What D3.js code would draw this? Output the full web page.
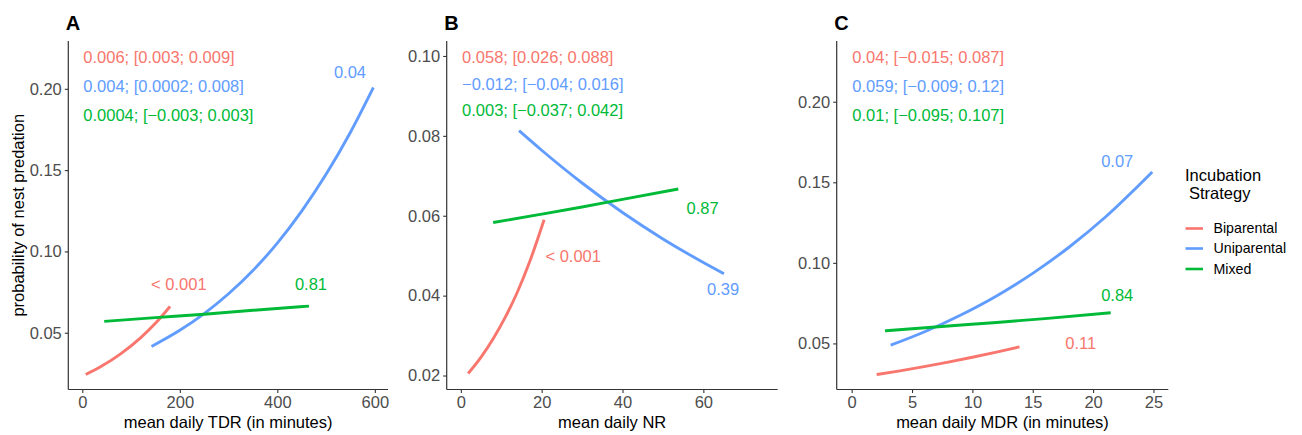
<!DOCTYPE html>
<html><head><meta charset="utf-8">
<script src="https://cdn.jsdelivr.net/npm/d3@7"></script>
<style>
body{margin:0;background:#fff;}
text{font-family:"Liberation Sans",Arial,sans-serif;}
</style></head>
<body><svg id="chart" width="1302" height="435"></svg>
<script>
// ---------- data ----------
const strategies = ["Biparental", "Uniparental", "Mixed"];
const colors = ["#F8766D", "#619CFF", "#00BA38"];

// Panel A: mean daily TDR
const tdrBiX = [7, 40, 80, 120, 150, 180];
const tdrBiY = [0.0243, 0.0295, 0.0373, 0.0470, 0.0558, 0.0662];
const tdrUniX = [142, 200, 250, 300, 350, 400, 450, 500, 550, 597];
const tdrUniY = [0.0416, 0.0515, 0.0618, 0.0740, 0.0883, 0.1051, 0.1248, 0.1474, 0.1733, 0.2008];
const tdrMixX = [45, 150, 250, 350, 465];
const tdrMixY = [0.0570, 0.0593, 0.0614, 0.0638, 0.0664];

// Panel B: mean daily NR
const nrBiX = [1.8, 5, 8, 11, 14, 17, 20.6];
const nrBiY = [0.0205, 0.0246, 0.0292, 0.0346, 0.0409, 0.0484, 0.0590];
const nrUniX = [14.4, 20, 30, 40, 50, 60, 65.1];
const nrUniY = [0.0813, 0.0764, 0.0682, 0.0608, 0.0542, 0.0483, 0.0455];
const nrMixX = [8, 20, 30, 40, 53.8];
const nrMixY = [0.0583, 0.0604, 0.0622, 0.0641, 0.0667];

// Panel C: mean daily MDR
const mdrBiX = [2.07, 4, 6, 8, 10, 12, 13.9];
const mdrBiY = [0.0307, 0.0330, 0.0356, 0.0384, 0.0414, 0.0446, 0.0479];
const mdrUniX = [3.23, 6, 9, 12, 15, 18, 21, 24.9];
const mdrUniY = [0.0489, 0.0571, 0.0675, 0.0795, 0.0935, 0.1097, 0.1283, 0.1564];
const mdrMixX = [2.76, 8, 12, 16, 21.46];
const mdrMixY = [0.0578, 0.0608, 0.0630, 0.0654, 0.0690];

// coefficient labels [estimate; CI] per strategy
const tdrCoef = ["0.006; [0.003; 0.009]", "0.004; [0.0002; 0.008]", "0.0004; [\u22120.003; 0.003]"];
const nrCoef = ["0.058; [0.026; 0.088]", "\u22120.012; [\u22120.04; 0.016]", "0.003; [\u22120.037; 0.042]"];
const mdrCoef = ["0.04; [\u22120.015; 0.087]", "0.059; [\u22120.009; 0.12]", "0.01; [\u22120.095; 0.107]"];
// coefficient label anchor (data coords)
const tdrCoefX = 2, tdrCoefY = [0.2193, 0.2017, 0.1838];
const nrCoefX = 0.3, nrCoefY = [0.0997, 0.0929, 0.0863];
const mdrCoefX = 0.05, mdrCoefY = [0.2276, 0.2097, 0.1917];

// p-value labels (data coords)
const tdrP = ["< 0.001", "0.04", "0.81"];
const tdrPX = [198, 549, 469], tdrPY = [0.0798, 0.2100, 0.0798];
const nrP = ["< 0.001", "0.39", "0.87"];
const nrPX = [27.8, 64.9, 59.8], nrPY = [0.0498, 0.0417, 0.0618];
const mdrP = ["0.11", "0.07", "0.84"];
const mdrPX = [18.97, 22.0, 22.0], mdrPY = [0.0500, 0.1628, 0.0798];

// axes
const tdrTicks = [0, 200, 400, 600];
const nrTicks = [0, 20, 40, 60];
const mdrTicks = [0, 5, 10, 15, 20, 25];
const tdrYTicks = [0.05, 0.10, 0.15, 0.20];
const nrYTicks = [0.02, 0.04, 0.06, 0.08, 0.10];
const mdrYTicks = [0.05, 0.10, 0.15, 0.20];

// ---------- layout ----------
const svg = d3.select("#chart");
const FS = 16.5;
const panels = [
  {letter:"A", left:68.3, right:388, xDom:[-28.7, 627], yDom:[0.0151, 0.2294], xt:tdrTicks, yt:tdrYTicks,
   xTitle:"mean daily TDR (in minutes)", series:[[tdrBiX,tdrBiY],[tdrUniX,tdrUniY],[tdrMixX,tdrMixY]],
   coef:tdrCoef, cx:tdrCoefX, cy:tdrCoefY, p:tdrP, px:tdrPX, py:tdrPY, yTitle:true},
  {letter:"B", left:446.7, right:777.7, xDom:[-3.5, 78.4], yDom:[0.0165, 0.10375], xt:nrTicks, yt:nrYTicks,
   xTitle:"mean daily NR", series:[[nrBiX,nrBiY],[nrUniX,nrUniY],[nrMixX,nrMixY]],
   coef:nrCoef, cx:nrCoefX, cy:nrCoefY, p:nrP, px:nrPX, py:nrPY},
  {letter:"C", left:836.7, right:1168.3, xDom:[-1.24, 26.23], yDom:[0.0214, 0.2377], xt:mdrTicks, yt:mdrYTicks,
   xTitle:"mean daily MDR (in minutes)", series:[[mdrBiX,mdrBiY],[mdrUniX,mdrUniY],[mdrMixX,mdrMixY]],
   coef:mdrCoef, cx:mdrCoefX, cy:mdrCoefY, p:mdrP, px:mdrPX, py:mdrPY}
];
const plotTop = 41, plotBottom = 389.5;

panels.forEach(P => {
  const x = d3.scaleLinear().domain(P.xDom).range([P.left, P.right]);
  const y = d3.scaleLinear().domain(P.yDom).range([plotBottom, plotTop]);
  const g = svg.append("g");

  const xa = g.append("g").attr("transform", `translate(0,${plotBottom})`)
    .call(d3.axisBottom(x).tickValues(P.xt).tickFormat(d3.format("d")).tickSizeOuter(0).tickSize(3.5).tickPadding(3));
  const ya = g.append("g").attr("transform", `translate(${P.left},0)`)
    .call(d3.axisLeft(y).tickValues(P.yt).tickFormat(d3.format(".2f")).tickSizeOuter(0).tickSize(3.5).tickPadding(3));
  [xa, ya].forEach(a => {
    a.select(".domain").attr("stroke", "#333").attr("stroke-width", 1.2);
    a.selectAll(".tick line").attr("stroke", "#333").attr("stroke-width", 1.1);
    a.selectAll(".tick text").attr("fill", "#4D4D4D").style("font-size", FS + "px").attr("font-family", null);
  });
  xa.select(".domain").attr("d", `M${P.left},0H${P.right}`);
  ya.select(".domain").attr("d", `M0,${plotBottom}V${plotTop}`);

  g.append("text").attr("x", (P.left + P.right) / 2).attr("y", 422).attr("dy", "0.35em")
    .attr("text-anchor", "middle").style("font-size", FS + "px").attr("fill", "#000").text(P.xTitle);
  if (P.yTitle) {
    g.append("text").attr("transform", `translate(18,${(plotTop + plotBottom) / 2}) rotate(-90)`).attr("dy", "0.35em")
      .attr("text-anchor", "middle").style("font-size", FS + "px").attr("fill", "#000").text("probability of nest predation");
  }
  g.append("text").attr("x", P.left - 2.5).attr("y", 30).style("font-size", "20px").style("font-weight", "bold")
    .attr("fill", "#000").text(P.letter);

  const line = d3.line().x(d => x(d[0])).y(d => y(d[1])).curve(d3.curveMonotoneX);
  P.series.forEach((s, i) => {
    const pts = s[0].map((v, k) => [v, s[1][k]]);
    g.append("path").datum(pts).attr("d", line).attr("fill", "none")
      .attr("stroke", colors[i]).attr("stroke-width", 2.9);
  });

  P.coef.forEach((t, i) => {
    g.append("text").attr("x", x(P.cx)).attr("y", y(P.cy[i])).attr("dy", "0.35em")
      .style("font-size", FS + "px").attr("fill", colors[i]).text(t);
  });
  P.p.forEach((t, i) => {
    g.append("text").attr("x", x(P.px[i])).attr("y", y(P.py[i])).attr("dy", "0.35em")
      .attr("text-anchor", "middle").style("font-size", FS + "px").attr("fill", colors[i]).text(t);
  });
});

// legend
const lg = svg.append("g");
lg.append("text").attr("x", 1185).attr("y", 175).attr("dy", "0.35em").style("font-size", FS + "px").attr("fill", "#000").text("Incubation");
lg.append("text").attr("x", 1189).attr("y", 193).attr("dy", "0.35em").style("font-size", FS + "px").attr("fill", "#000").text("Strategy");
const legY = [228.5, 248.5, 269];
strategies.forEach((s, i) => {
  lg.append("line").attr("x1", 1185.5).attr("x2", 1203).attr("y1", legY[i]).attr("y2", legY[i])
    .attr("stroke", colors[i]).attr("stroke-width", 2.6);
  lg.append("text").attr("x", 1213.5).attr("y", legY[i]).attr("dy", "0.35em").style("font-size", "14.2px")
    .attr("fill", "#000").text(s);
});
</script></body></html>
